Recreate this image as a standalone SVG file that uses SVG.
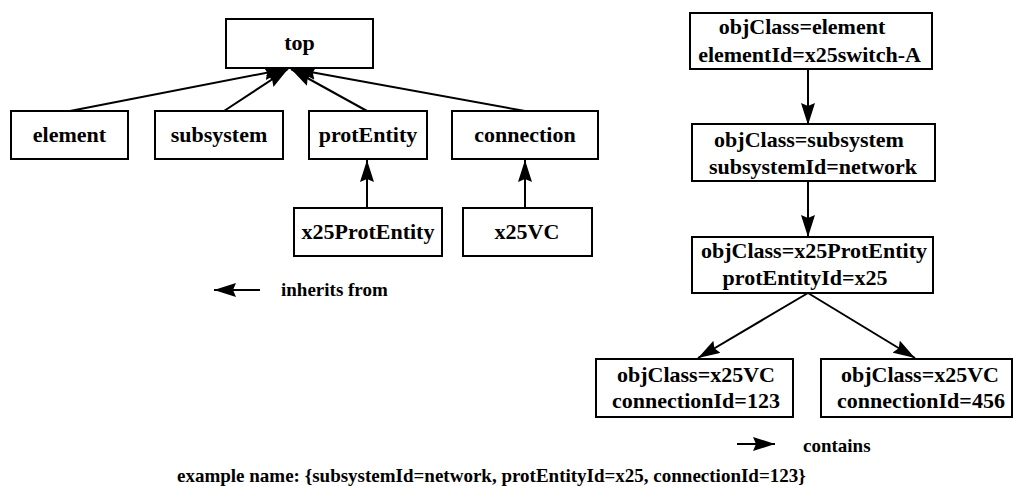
<svg xmlns="http://www.w3.org/2000/svg" width="1014" height="486" viewBox="0 0 1014 486">
<style>
.box{fill:#fff;stroke:#000;stroke-width:2}
.t{font-family:"Liberation Serif","Times New Roman",serif;font-weight:bold;font-size:22px;fill:#000;text-anchor:middle}
.s{font-family:"Liberation Serif","Times New Roman",serif;font-weight:bold;font-size:19px;fill:#000}
.c{stroke:#000;stroke-width:2;fill:none;marker-end:url(#ah)}
</style>
<defs>
<marker id="ah" markerUnits="userSpaceOnUse" markerWidth="22" markerHeight="14" refX="22" refY="7" orient="auto">
<path d="M0,0 L22,7 L0,14 L3,7 z" fill="#000"/>
</marker>
</defs>
<rect width="1014" height="486" fill="#fff"/>
<g id="connectors">
<line class="c" x1="70" y1="111" x2="286" y2="69"/>
<line class="c" x1="224" y1="111" x2="288" y2="69"/>
<line class="c" x1="367" y1="111" x2="291" y2="69"/>
<line class="c" x1="525" y1="111" x2="294" y2="69"/>
<line class="c" x1="367" y1="208" x2="367" y2="160"/>
<line class="c" x1="525" y1="208" x2="525" y2="160"/>
<line class="c" x1="808" y1="69" x2="808" y2="125"/>
<line class="c" x1="808" y1="181" x2="808" y2="237"/>
<line class="c" x1="808" y1="293" x2="698" y2="358"/>
<line class="c" x1="808" y1="293" x2="915" y2="358"/>
<line class="c" x1="260" y1="290" x2="214" y2="290"/>
<line class="c" x1="737" y1="444" x2="775" y2="444"/>
</g>
<g id="top"><rect class="box" x="226" y="19" width="147" height="49"/><text class="t" x="299.5" y="50">top</text></g>
<g id="element"><rect class="box" x="11" y="111" width="117" height="48"/><text class="t" x="69.5" y="142">element</text></g>
<g id="subsystem"><rect class="box" x="155" y="111" width="128" height="48"/><text class="t" x="219" y="142">subsystem</text></g>
<g id="protEntity"><rect class="box" x="309" y="111" width="118" height="48"/><text class="t" x="368" y="142">protEntity</text></g>
<g id="connection"><rect class="box" x="452" y="111" width="146" height="48"/><text class="t" x="525" y="142">connection</text></g>
<g id="x25ProtEntity"><rect class="box" x="294" y="208" width="148" height="48"/><text class="t" x="368" y="239">x25ProtEntity</text></g>
<g id="x25VC"><rect class="box" x="463" y="208" width="129" height="48"/><text class="t" x="527" y="239">x25VC</text></g>
<g id="inst-element"><rect class="box" x="690" y="13" width="242" height="56"/><text class="t" x="802" y="34">objClass=element</text><text class="t" x="809.5" y="62">elementId=x25switch-A</text></g>
<g id="inst-subsystem"><rect class="box" x="692" y="124" width="243" height="57"/><text class="t" x="809" y="147">objClass=subsystem</text><text class="t" x="813" y="174">subsystemId=network</text></g>
<g id="inst-protEntity"><rect class="box" x="692" y="237" width="241" height="56"/><text class="t" x="814" y="258">objClass=x25ProtEntity</text><text class="t" x="805" y="285">protEntityId=x25</text></g>
<g id="inst-vc123"><rect class="box" x="596" y="359" width="197" height="58"/><text class="t" x="696" y="382">objClass=x25VC</text><text class="t" x="696" y="408">connectionId=123</text></g>
<g id="inst-vc456"><rect class="box" x="821" y="359" width="191" height="58"/><text class="t" x="920" y="382">objClass=x25VC</text><text class="t" x="921" y="408">connectionId=456</text></g>
<g id="legend">
<text class="s" x="281" y="296">inherits from</text>
<text class="s" x="803" y="452">contains</text>
<text class="s" x="177" y="482">example name: {subsystemId=network, protEntityId=x25, connectionId=123}</text>
</g>
</svg>
